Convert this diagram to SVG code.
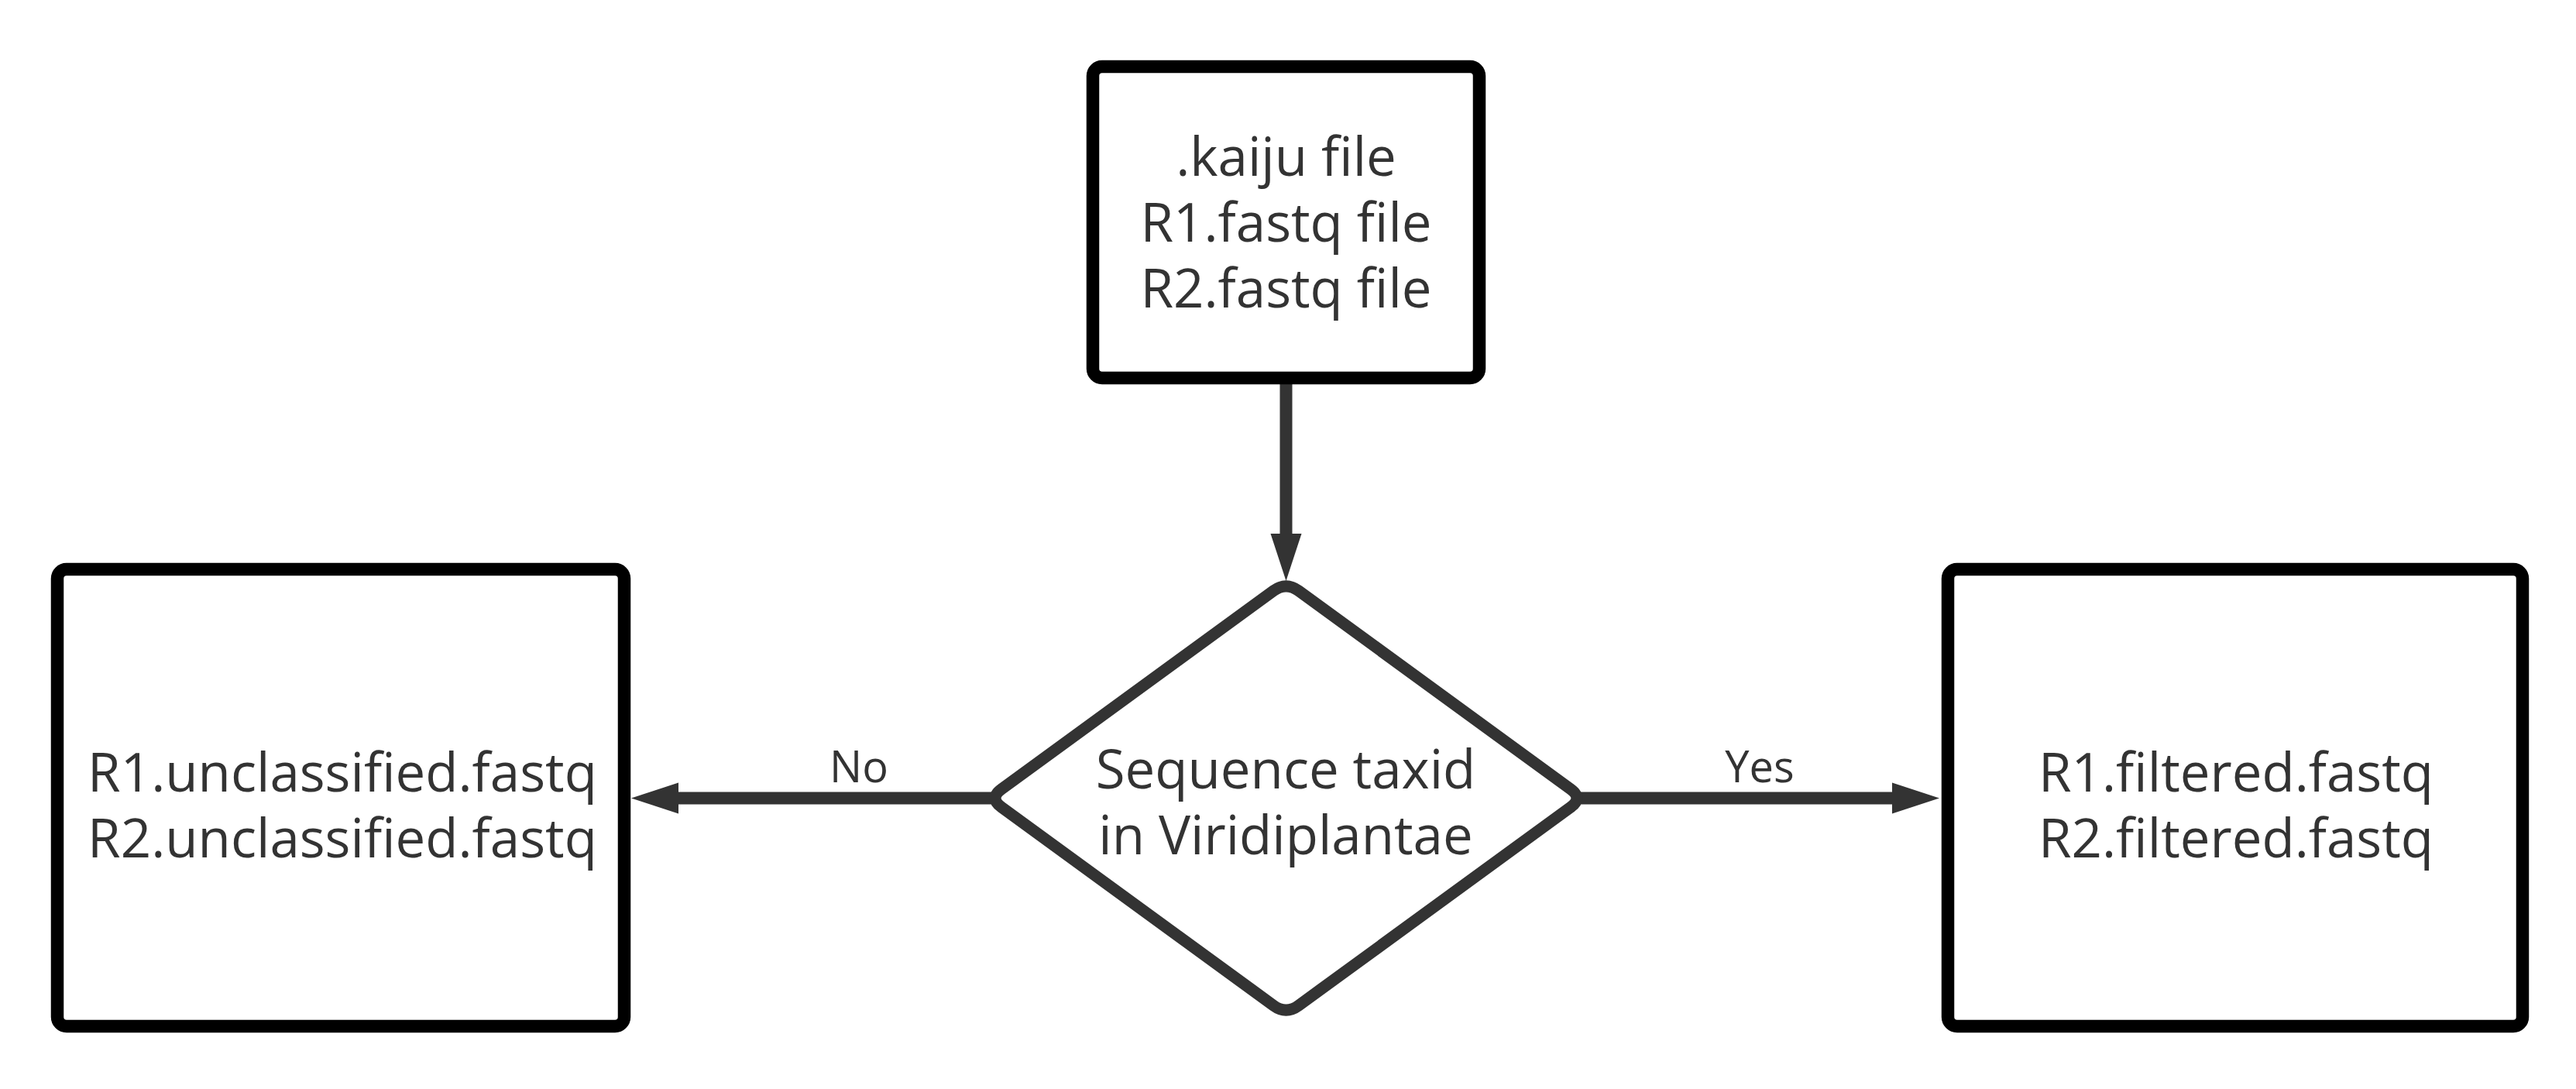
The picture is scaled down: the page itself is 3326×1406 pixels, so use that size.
<svg xmlns="http://www.w3.org/2000/svg" width="3326" height="1406" viewBox="0 0 3326 1406">
  <style>
    .box { fill: #ffffff; stroke: #000000; stroke-width: 16.5; }
    .decision { fill: #ffffff; stroke: #333333; stroke-width: 15; stroke-linejoin: round; }
    .label { font-family: "Open Sans", "Noto Sans", "Liberation Sans", sans-serif; font-size: 69px; fill: #333333; text-anchor: middle; }
    .edge-label { font-family: "Open Sans", "Noto Sans", "Liberation Sans", sans-serif; font-size: 56px; fill: #333333; text-anchor: middle; }
    .edge { fill: none; stroke: #333333; stroke-width: 16; }
  </style>
  <defs>
    <marker id="arrow" markerUnits="userSpaceOnUse" markerWidth="62" markerHeight="42" refX="0" refY="21" orient="auto" overflow="visible">
      <path d="M0,1 L61,21 L0,41 Z" fill="#333333"/>
    </marker>
  </defs>
  <rect width="3326" height="1406" fill="#ffffff"/>

  <g id="connectors">
    <g id="edge-input-decision">
      <line class="edge" x1="1660.5" y1="492" x2="1660.5" y2="689" marker-end="url(#arrow)"/>
    </g>
    <g id="edge-decision-no">
      <line class="edge" x1="1286" y1="1030.5" x2="876" y2="1030.5" marker-end="url(#arrow)"/>
      <text class="edge-label" x="1109" y="1010">No</text>
    </g>
    <g id="edge-decision-yes">
      <line class="edge" x1="2035" y1="1030.5" x2="2443" y2="1030.5" marker-end="url(#arrow)"/>
      <text class="edge-label" x="2272" y="1010">Yes</text>
    </g>
  </g>

  <g id="node-input">
    <rect class="box" x="1411" y="86" width="499" height="402" rx="12" ry="12"/>
    <text class="label" x="1660.5" y="227">.kaiju file</text>
    <text class="label" x="1660.5" y="312">R1.fastq file</text>
    <text class="label" x="1660.5" y="397">R2.fastq file</text>
  </g>

  <g id="node-decision">
    <path class="decision" d="M 1293.2,1018.7 L 1644.3,762.8 Q 1660.5,751 1676.7,762.8 L 2027.8,1018.7 Q 2044,1030.5 2027.8,1042.3 L 1676.7,1298.2 Q 1660.5,1310 1644.3,1298.2 L 1293.2,1042.3 Q 1277,1030.5 1293.2,1018.7 Z"/>
    <text class="label" x="1660" y="1018">Sequence taxid</text>
    <text class="label" x="1660" y="1103">in Viridiplantae</text>
  </g>

  <g id="node-unclassified">
    <rect class="box" x="74" y="735" width="732" height="590" rx="12" ry="12"/>
    <text class="label" x="442" y="1022">R1.unclassified.fastq</text>
    <text class="label" x="442" y="1107">R2.unclassified.fastq</text>
  </g>

  <g id="node-filtered">
    <rect class="box" x="2515" y="735" width="742" height="590" rx="12" ry="12"/>
    <text class="label" x="2887" y="1022">R1.filtered.fastq</text>
    <text class="label" x="2887" y="1107">R2.filtered.fastq</text>
  </g>
</svg>
